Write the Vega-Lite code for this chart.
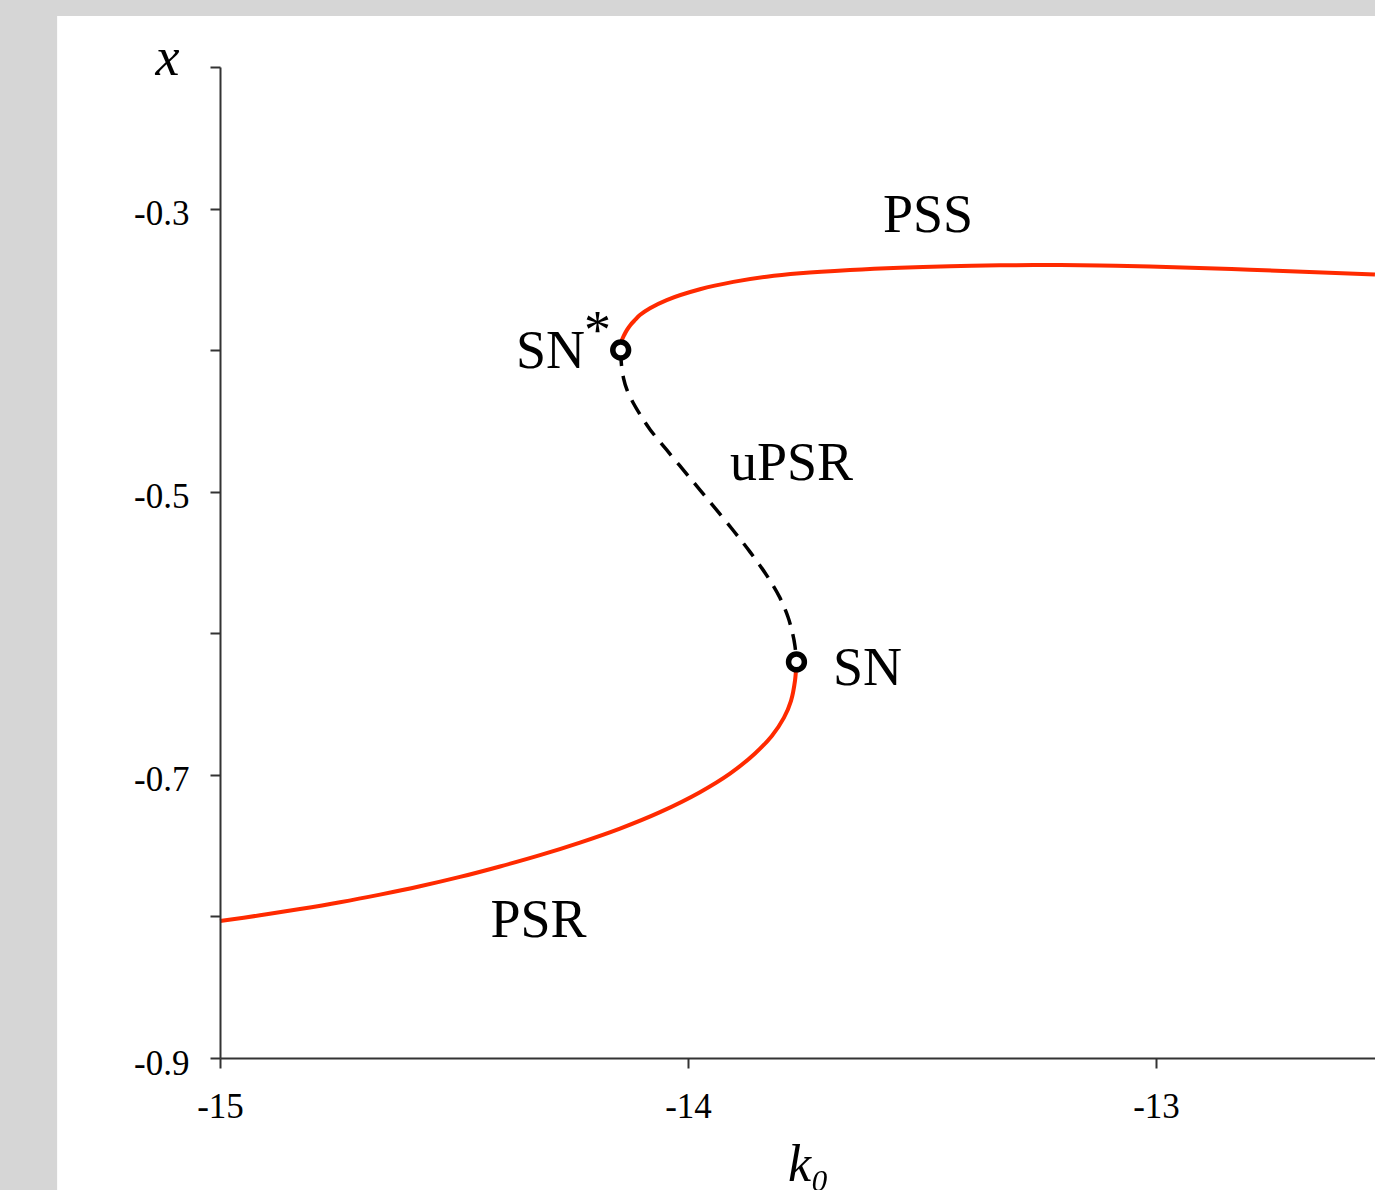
{
  "$schema": "https://vega.github.io/schema/vega-lite/v6.json",
  "autosize": {"type": "none"},
  "padding": {"left": 220, "top": 67, "right": 0, "bottom": 132},
  "width": 1155,
  "height": 991,
  "background": "#d6d6d6",
  "config": {"view": {"stroke": null}, "font": "Liberation Serif"},
  "datasets": {
    "curves": [
      {"branch": "PSR", "i": 0, "k": -15.0, "x": -0.8032},
      {"branch": "PSR", "i": 1, "k": -14.9145, "x": -0.7992},
      {"branch": "PSR", "i": 2, "k": -14.8291, "x": -0.7948},
      {"branch": "PSR", "i": 3, "k": -14.7436, "x": -0.79},
      {"branch": "PSR", "i": 4, "k": -14.6581, "x": -0.7846},
      {"branch": "PSR", "i": 5, "k": -14.5726, "x": -0.7787},
      {"branch": "PSR", "i": 6, "k": -14.4872, "x": -0.7721},
      {"branch": "PSR", "i": 7, "k": -14.4017, "x": -0.7647},
      {"branch": "PSR", "i": 8, "k": -14.3162, "x": -0.7567},
      {"branch": "PSR", "i": 9, "k": -14.2308, "x": -0.7478},
      {"branch": "PSR", "i": 10, "k": -14.1453, "x": -0.7379},
      {"branch": "PSR", "i": 11, "k": -14.0598, "x": -0.7263},
      {"branch": "PSR", "i": 12, "k": -13.9744, "x": -0.7122},
      {"branch": "PSR", "i": 13, "k": -13.9103, "x": -0.6991},
      {"branch": "PSR", "i": 14, "k": -13.8568, "x": -0.6849},
      {"branch": "PSR", "i": 15, "k": -13.8205, "x": -0.6723},
      {"branch": "PSR", "i": 16, "k": -13.7949, "x": -0.6596},
      {"branch": "PSR", "i": 17, "k": -13.7799, "x": -0.6477},
      {"branch": "PSR", "i": 18, "k": -13.7714, "x": -0.6336},
      {"branch": "PSR", "i": 19, "k": -13.7682, "x": -0.6202},
      {"branch": "uPSR", "i": 0, "k": -14.1438, "x": -0.3999},
      {"branch": "uPSR", "i": 1, "k": -14.1421, "x": -0.4105},
      {"branch": "uPSR", "i": 2, "k": -14.1378, "x": -0.4197},
      {"branch": "uPSR", "i": 3, "k": -14.1303, "x": -0.4281},
      {"branch": "uPSR", "i": 4, "k": -14.1169, "x": -0.4373},
      {"branch": "uPSR", "i": 5, "k": -14.1004, "x": -0.4465},
      {"branch": "uPSR", "i": 6, "k": -14.0812, "x": -0.456},
      {"branch": "uPSR", "i": 7, "k": -14.0455, "x": -0.4705},
      {"branch": "uPSR", "i": 8, "k": -13.9957, "x": -0.4903},
      {"branch": "uPSR", "i": 9, "k": -13.953, "x": -0.5072},
      {"branch": "uPSR", "i": 10, "k": -13.9032, "x": -0.5274},
      {"branch": "uPSR", "i": 11, "k": -13.8675, "x": -0.5425},
      {"branch": "uPSR", "i": 12, "k": -13.8318, "x": -0.5591},
      {"branch": "uPSR", "i": 13, "k": -13.8034, "x": -0.575},
      {"branch": "uPSR", "i": 14, "k": -13.7863, "x": -0.5885},
      {"branch": "uPSR", "i": 15, "k": -13.7767, "x": -0.5998},
      {"branch": "uPSR", "i": 16, "k": -13.7714, "x": -0.6089},
      {"branch": "uPSR", "i": 17, "k": -13.7682, "x": -0.6202},
      {"branch": "PSS", "i": 0, "k": -14.1438, "x": -0.3999},
      {"branch": "PSS", "i": 1, "k": -14.1429, "x": -0.3963},
      {"branch": "PSS", "i": 2, "k": -14.141, "x": -0.3928},
      {"branch": "PSS", "i": 3, "k": -14.1363, "x": -0.3893},
      {"branch": "PSS", "i": 4, "k": -14.1303, "x": -0.3857},
      {"branch": "PSS", "i": 5, "k": -14.1229, "x": -0.3822},
      {"branch": "PSS", "i": 6, "k": -14.1132, "x": -0.3787},
      {"branch": "PSS", "i": 7, "k": -14.1028, "x": -0.3752},
      {"branch": "PSS", "i": 8, "k": -14.0812, "x": -0.3704},
      {"branch": "PSS", "i": 9, "k": -14.0455, "x": -0.3646},
      {"branch": "PSS", "i": 10, "k": -13.9744, "x": -0.357},
      {"branch": "PSS", "i": 11, "k": -13.9032, "x": -0.3518},
      {"branch": "PSS", "i": 12, "k": -13.8318, "x": -0.3481},
      {"branch": "PSS", "i": 13, "k": -13.7607, "x": -0.3457},
      {"branch": "PSS", "i": 14, "k": -13.6538, "x": -0.3434},
      {"branch": "PSS", "i": 15, "k": -13.547, "x": -0.3418},
      {"branch": "PSS", "i": 16, "k": -13.4402, "x": -0.3408},
      {"branch": "PSS", "i": 17, "k": -13.3333, "x": -0.3401},
      {"branch": "PSS", "i": 18, "k": -13.2265, "x": -0.3399},
      {"branch": "PSS", "i": 19, "k": -13.1197, "x": -0.3402},
      {"branch": "PSS", "i": 20, "k": -13.0128, "x": -0.341},
      {"branch": "PSS", "i": 21, "k": -12.7991, "x": -0.3432},
      {"branch": "PSS", "i": 22, "k": -12.5321, "x": -0.3466}
    ],
    "points": [
      {"name": "SN*", "k": -14.1438, "x": -0.3999},
      {"name": "SN", "k": -13.7682, "x": -0.6202}
    ],
    "labels": [
      {"label": "PSS", "k": -13.4872, "x": -0.3165},
      {"label": "SN", "k": -14.2938, "x": -0.4126},
      {"label": "*", "k": -14.1934, "x": -0.3988},
      {"label": "uPSR", "k": -13.7788, "x": -0.4917},
      {"label": "SN", "k": -13.6165, "x": -0.6365},
      {"label": "PSR", "k": -14.3194, "x": -0.8143}
    ]
  },
  "layer": [
    {
      "data": {"values": [{"panel": "plot"}]},
      "mark": {"type": "rect", "fill": "white"},
      "encoding": {
        "x": {"datum": -15.348, "type": "quantitative", "title": "k₀"},
        "x2": {"datum": -12.532},
        "y": {"datum": -0.164, "type": "quantitative", "title": "x"},
        "y2": {"datum": -0.995}
      }
    },
    {
      "data": {"name": "curves"},
      "transform": [{"filter": "datum.branch !== 'uPSR'"}],
      "mark": {"type": "line", "color": "#ff2a00", "strokeWidth": 4, "interpolate": "catmull-rom"},
      "encoding": {
        "x": {
          "field": "k",
          "type": "quantitative",
          "title": "k₀",
          "scale": {"domain": [-15, -12.532], "nice": false, "zero": false},
          "axis": {
            "values": [-15, -14, -13],
            "labelExpr": "'-' + format(abs(datum.value), 'd')",
            "labelFont": "Liberation Serif",
            "labelFontSize": 35,
            "labelColor": "black",
            "labelPadding": 21,
            "labelFlush": false,
            "labelOverlap": false,
            "labelBound": false,
            "tickSize": 10,
            "tickWidth": 2,
            "tickColor": "#333333",
            "domainColor": "#333333",
            "domainWidth": 2,
            "grid": false,
            "titleFont": "Liberation Serif",
            "titleFontStyle": "italic",
            "titleFontWeight": "normal",
            "titleFontSize": 52,
            "titleColor": "black",
            "titleX": 588,
            "titleY": 122,
            "titleAlign": "center",
            "titleBaseline": "alphabetic",
            "zindex": 1
          }
        },
        "y": {
          "field": "x",
          "type": "quantitative",
          "title": "x",
          "scale": {"domain": [-0.9, -0.2], "nice": false, "zero": false},
          "axis": {
            "values": [-0.9, -0.8, -0.7, -0.6, -0.5, -0.4, -0.3, -0.2],
            "labelExpr": "indexof([-3, -5, -7, -9], round(datum.value * 10)) >= 0 ? '-' + format(abs(datum.value), '.1f') : ''",
            "labelFont": "Liberation Serif",
            "labelFontSize": 35,
            "labelColor": "black",
            "labelPadding": 21,
            "labelOffset": 5,
            "labelFlush": false,
            "labelOverlap": false,
            "labelBound": false,
            "tickSize": 10,
            "tickWidth": 2,
            "tickColor": "#333333",
            "domainColor": "#333333",
            "domainWidth": 2,
            "grid": false,
            "titleFont": "Liberation Serif",
            "titleFontStyle": "italic",
            "titleFontWeight": "normal",
            "titleFontSize": 54,
            "titleColor": "black",
            "titleAngle": 0,
            "titleX": -53,
            "titleY": 7,
            "titleAlign": "center",
            "titleBaseline": "alphabetic",
            "zindex": 1
          }
        },
        "detail": {"field": "branch"},
        "order": {"field": "i", "type": "quantitative"}
      }
    },
    {
      "data": {"name": "curves"},
      "transform": [{"filter": "datum.branch === 'uPSR'"}],
      "mark": {"type": "line", "color": "black", "strokeWidth": 3.5, "strokeDash": [16, 10], "interpolate": "catmull-rom"},
      "encoding": {
        "x": {"field": "k", "type": "quantitative", "title": "k₀"},
        "y": {"field": "x", "type": "quantitative", "title": "x"},
        "order": {"field": "i", "type": "quantitative"}
      }
    },
    {
      "data": {"name": "points"},
      "mark": {"type": "point", "shape": "circle", "fill": "white", "stroke": "black", "strokeWidth": 5.5, "size": 250, "opacity": 1, "fillOpacity": 1},
      "encoding": {
        "x": {"field": "k", "type": "quantitative", "title": "k₀"},
        "y": {"field": "x", "type": "quantitative", "title": "x"}
      }
    },
    {
      "data": {"name": "labels"},
      "mark": {"type": "text", "font": "Liberation Serif", "fontSize": 54, "align": "center", "baseline": "alphabetic", "color": "black"},
      "encoding": {
        "x": {"field": "k", "type": "quantitative", "title": "k₀"},
        "y": {"field": "x", "type": "quantitative", "title": "x"},
        "text": {"field": "label"}
      }
    }
  ]
}
